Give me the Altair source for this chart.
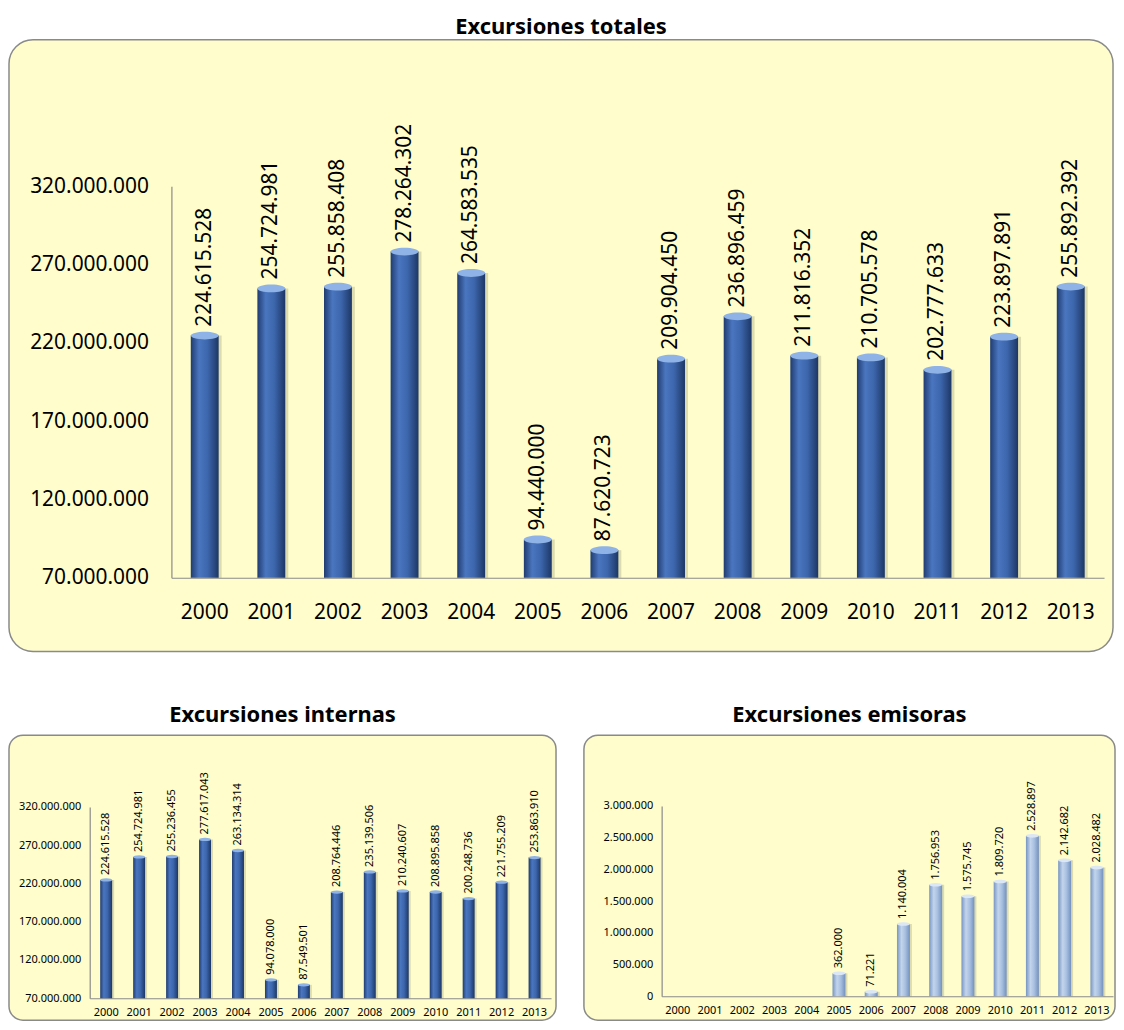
import altair as alt
import pandas as pd

years = [str(y) for y in range(2000, 2014)]

totales = [224615528, 254724981, 255858408, 278264302, 264583535, 94440000, 87620723,
           209904450, 236896459, 211816352, 210705578, 202777633, 223897891, 255892392]
internas = [224615528, 254724981, 255236455, 277617043, 263134314, 94078000, 87549501,
            208764446, 235139506, 210240607, 208895858, 200248736, 221755209, 253863910]
emisoras = [None, None, None, None, None, 362000, 71221,
            1140004, 1756953, 1575745, 1809720, 2528897, 2142682, 2028482]

ticks_big = [70000000, 120000000, 170000000, 220000000, 270000000, 320000000]
ticks_emi = [0, 500000, 1000000, 1500000, 2000000, 2500000, 3000000]

FONT = "Noto Sans"
FILL = "#fefdcb"
STROKE = "#8a8a8a"
LABEL_EXPR = "replace(format(datum.value, ',d'), regexp(',', 'g'), '.')"

dark_grad = alt.LinearGradient(
    gradient="linear", x1=0, x2=1, y1=0, y2=0,
    stops=[alt.GradientStop(color="#203c70", offset=0),
           alt.GradientStop(color="#4a76c0", offset=0.3),
           alt.GradientStop(color="#3d67ad", offset=0.6),
           alt.GradientStop(color="#1d3766", offset=1)])
light_grad = alt.LinearGradient(
    gradient="linear", x1=0, x2=1, y1=0, y2=0,
    stops=[alt.GradientStop(color="#7795c2", offset=0),
           alt.GradientStop(color="#c3d5ec", offset=0.35),
           alt.GradientStop(color="#a6bfe0", offset=0.65),
           alt.GradientStop(color="#7390bd", offset=1)])

ELLIPSE = "M-1,0A1,0.28,0,1,0,1,0A1,0.28,0,1,0,-1,0Z"


def fmt(v):
    return f"{v:,}".replace(",", ".")


def panel(values, title, w, h, xr, yr, ydom, yticks, base, fsize, bar_w, grad, cap,
          radius, title_offset, ylab_pad, xlab_pad, text_dx, shadow_dx):
    df = pd.DataFrame({"year": years, "value": values})
    df = df[df["value"].notna()].copy()
    df["label"] = df["value"].astype(int).map(fmt)
    pad_inner = 1 - bar_w / ((xr[1] - xr[0]) / len(years))
    xscale = alt.Scale(domain=years, range=xr, paddingInner=pad_inner,
                       paddingOuter=pad_inner / 2)
    yscale = alt.Scale(domain=ydom, range=yr, zero=False, nice=False)
    x = alt.X("year:O", scale=xscale, sort=years, title=None,
              axis=alt.Axis(offset=-(h - yr[0]), ticks=False, labelAngle=0,
                            labelPadding=xlab_pad, labelFontSize=fsize, labelFont=FONT,
                            labelColor="#000000", domainColor=STROKE, domainWidth=1.2,
                            grid=False))
    y = alt.Y("value:Q", scale=yscale, title=None,
              axis=alt.Axis(values=yticks, labelExpr=LABEL_EXPR, offset=-xr[0],
                            ticks=False, grid=False, labelPadding=ylab_pad,
                            labelFontSize=fsize, labelFont=FONT, labelColor="#000000",
                            labelOverlap=False, domainColor=STROKE, domainWidth=1.2))
    base_chart = alt.Chart(df)
    shadow = base_chart.mark_bar(color="#000000", opacity=0.13, size=bar_w,
                                 xOffset=shadow_dx).encode(x=x, y=y, y2=alt.datum(base))
    bars = base_chart.mark_bar(color=grad, size=bar_w).encode(
        x="year:O", y="value:Q", y2=alt.datum(base))
    caps = base_chart.mark_point(shape=ELLIPSE, size=bar_w * bar_w, filled=True,
                                 opacity=1, color=cap).encode(x="year:O", y="value:Q")
    text = base_chart.mark_text(angle=270, align="left", baseline="middle", dx=text_dx,
                                font=FONT, fontSize=fsize, color="#000000").encode(
        x="year:O", y="value:Q", text="label:N")
    return alt.layer(shadow, bars, caps, text).properties(
        width=w, height=h,
        view=alt.ViewBackground(fill=FILL, stroke=STROKE, strokeWidth=1.5,
                                cornerRadius=radius),
        title=alt.TitleParams(text=title, font=FONT, fontSize=22, fontWeight="bold",
                              color="#000000", baseline="alphabetic", offset=title_offset))


top = panel(totales, "Excursiones totales", 1108, 614, [163, 1099], [540, 147],
            [70000000, 320000000], ticks_big, 70000000, 21, 28, dark_grad, "#8fb3e6",
            24, -16, 23, 24, 9, 3)
left = panel(internas, "Excursiones internas", 549, 286, [81, 544], [264, 72],
             [70000000, 320000000], ticks_big, 70000000, 11, 12, dark_grad, "#8fb3e6",
             14, -9, 9, 8, 5, 2)
right = panel(emisoras, "Excursiones emisoras", 533, 286, [78, 531], [262, 71],
              [0, 3000000], ticks_emi, 0, 11, 13, light_grad, "#dce7f5",
              14, -9, 9, 8, 5, 2)

chart = alt.vconcat(top, alt.hconcat(left, right, spacing=26), spacing=51).properties(
    padding={"left": 0, "top": 5, "right": 0, "bottom": 0}
).configure_view(strokeWidth=1.5)

chart.save("out.html", embed_options={"renderer": "svg", "actions": False})
